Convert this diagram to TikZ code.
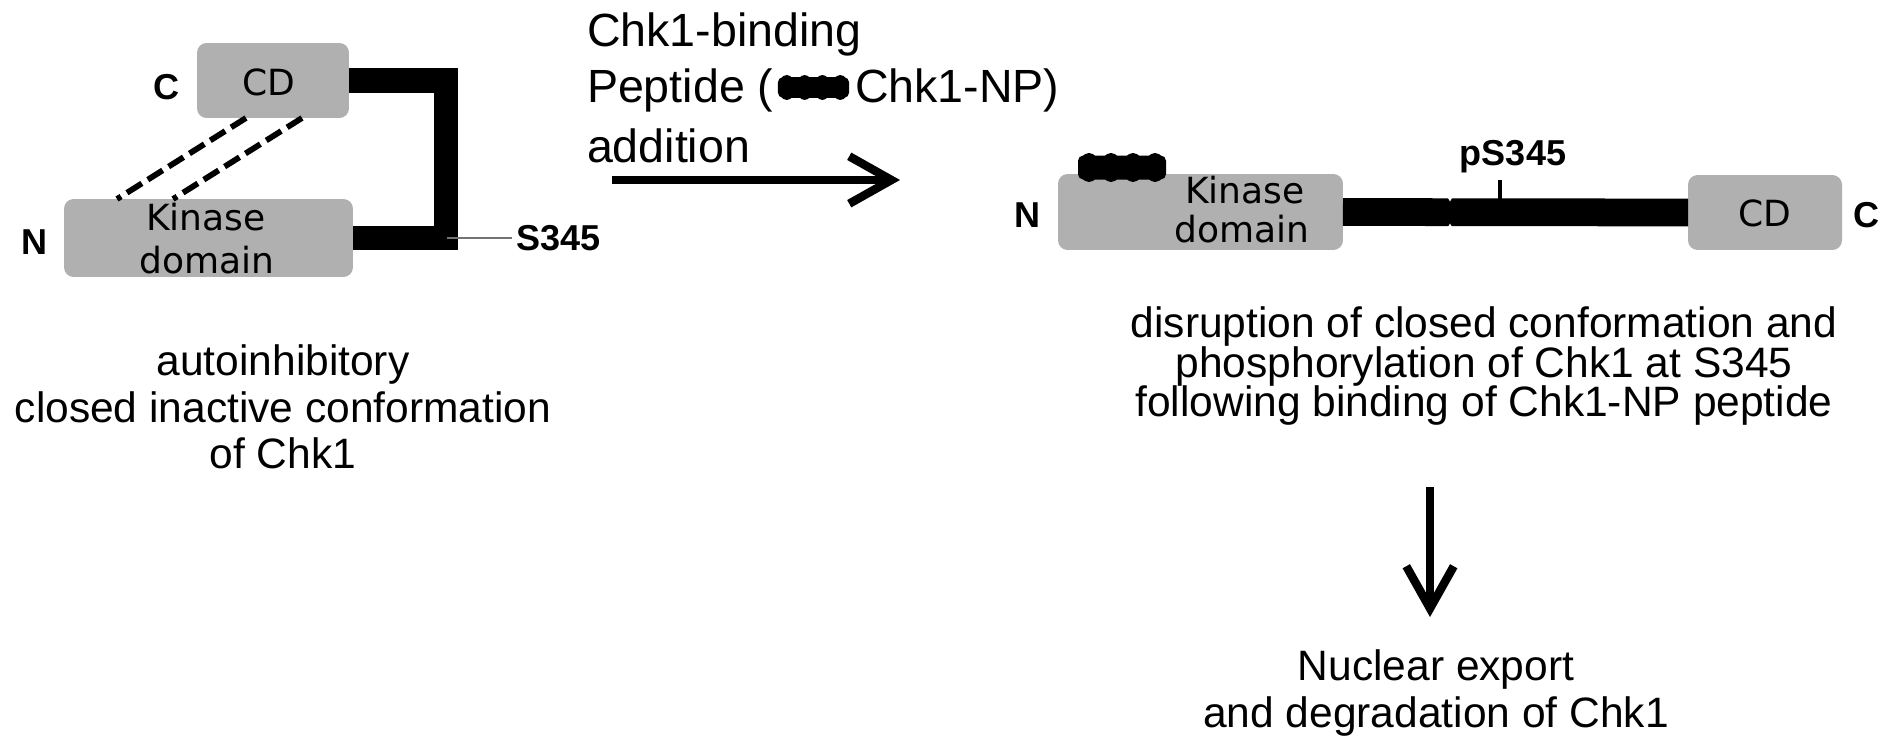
\documentclass[tikz,border=0pt]{standalone}
\usepackage{fontspec}
\setmainfont{Liberation Sans}
\newfontfamily\dvfont{DejaVu Sans}
\usetikzlibrary{arrows.meta,calc}
\definecolor{boxgray}{RGB}{176,176,176}
\begin{document}
\begin{tikzpicture}[x=0.02cm,y=-0.02cm,
  every node/.style={inner sep=0pt, outer sep=0pt},
  domainbox/.style={fill=boxgray, rounded corners=5.5pt, draw=none},
  lbl/.style={font=\fontsize{24.2}{29}\selectfont},
  toplbl/.style={font=\fontsize{26.5}{32}\selectfont},
  term/.style={font=\bfseries\fontsize{20.5}{24}\selectfont},
  boxtxt/.style={font=\dvfont\fontsize{20.5}{24}\selectfont},
  linker/.style={line width=14.2pt, line join=miter, draw=black},
  saltbridge/.style={line width=3.3pt, dash pattern=on 10pt off 4pt},
  bigarrow/.style={line width=4.8pt, -{Straight Barb[length=24pt,width=27pt]}},
  pep/.pic={
    \fill (-33,0) ellipse [x radius=10.5, y radius=14.5];
    \fill (-11,0) ellipse [x radius=10.5, y radius=14.5];
    \fill (11,0) ellipse [x radius=10.5, y radius=14.5];
    \fill (33,0) ellipse [x radius=10.5, y radius=14.5];
    \fill[rounded corners=3pt] (-44,-12) rectangle (44,12);
  }
]
\useasboundingbox[fill=white] (0,0) rectangle (1890,750);

% ---------- closed conformation (left) ----------
\node[domainbox, minimum width=3.04cm, minimum height=1.5cm] (cdL) at (273,80.5) {};
\node[domainbox, minimum width=5.78cm, minimum height=1.56cm] (kinL) at (208.5,238) {};
\node[boxtxt] (cdLt) at (269,82) {CD};
\node[boxtxt, anchor=base] (kinLt1) at (206,230) {Kinase};
\node[boxtxt, anchor=base] (kinLt2) at (207,273) {domain};
\node[term] (cL) at (167,87) {C};
\node[term] (nL) at (35,242) {N};

\coordinate (bend) at (446,0);
\draw[linker] (cdL.east) -- (cdL.east -| bend) -- (kinL.east -| bend) -- (kinL.east);
\coordinate (s345site) at (447,238);
\node[term, anchor=west] (s345) at (516,238) {S345};
\draw[black!55, line width=1.5pt, shorten >=2pt] (s345site) -- (s345.west);

\draw[saltbridge] ($(cdL.south)+(-27,0)$) -- ($(kinL.north west)+(53,0)$);
\draw[saltbridge] ($(cdL.south)+(29,0)$) -- ($(kinL.north west)+(109,0)$);

\node[lbl, anchor=base] (l1) at (283,375) {autoinhibitory};
\node[lbl, anchor=base] (l2) at (283,422) {closed inactive conformation};
\node[lbl, anchor=base] (l3) at (283,468) {of Chk1};

% ---------- peptide addition ----------
\node[toplbl, anchor=base west] (t1) at (587,47) {Chk1-binding};
\node[toplbl, anchor=base west] (t2a) at (587,103) {Peptide (};
\pic[xscale=0.81, yscale=0.86] at (813.5,87.5) {pep};
\node[toplbl, anchor=base west] (t2b) at (855,103) {Chk1-NP)};
\node[toplbl, anchor=base west] (t3) at (587,162) {addition};
\coordinate (arrA) at (612,180);
\coordinate (arrB) at (900,180);
\draw[bigarrow] (arrA) -- (arrB);

% ---------- open conformation (right) ----------
\node[domainbox, minimum width=5.7cm, minimum height=1.52cm] (kinR) at (1200.5,212) {};
\node[domainbox, minimum width=3.08cm, minimum height=1.5cm] (cdR) at (1765,212.5) {};
\pic at (1122,167.5) {pep};
\node[boxtxt, anchor=base] (kinRt1) at (1245,203) {Kinase};
\node[boxtxt, anchor=base] (kinRt2) at (1242,242) {domain};
\node[boxtxt] (cdRt) at (1765,213) {CD};
\node[term] (nR) at (1027,215) {N};
\node[term] (cR) at (1866,215) {C};

\draw[line width=15.8pt] (kinR.east) -- (cdR.west);
\coordinate (notch) at (1450,212.5);
\fill[white] ($(notch)+(-2,-14.5)$) -- ($(notch)+(2,-14.5)$) -- ($(notch)+(0,-11)$) -- cycle;
\fill[white] ($(notch)+(-2,14.5)$) -- ($(notch)+(2,14.5)$) -- ($(notch)+(0,11)$) -- cycle;

\node[term, anchor=base] (ps345) at (1513,165) {pS345};
\coordinate (tickTop) at (1500,180);
\coordinate (tickBot) at (1500,200);
\draw[line width=2.3pt] (tickTop) -- (tickBot);

\node[lbl, anchor=base] (r1) at (1484,337) {disruption of closed conformation and};
\node[lbl, anchor=base] (r2) at (1484,377) {phosphorylation of Chk1 at S345};
\node[lbl, anchor=base] (r3) at (1484,416) {following binding of Chk1-NP peptide};

\coordinate (arrC) at (1430,487);
\coordinate (arrD) at (1430,617);
\draw[bigarrow] (arrC) -- (arrD);

\node[lbl, anchor=base] (b1) at (1436,680) {Nuclear export};
\node[lbl, anchor=base] (b2) at (1436,727) {and degradation of Chk1};
\end{tikzpicture}
\end{document}
